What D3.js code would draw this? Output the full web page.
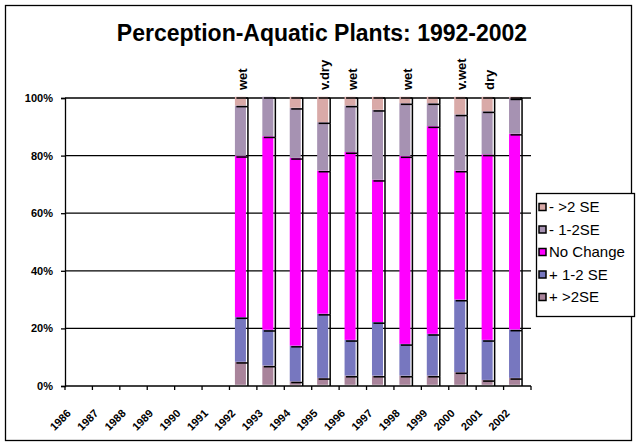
<!DOCTYPE html>
<html>
<head>
<meta charset="utf-8">
<script src="https://cdn.jsdelivr.net/npm/d3@7"></script>
<style>
  html, body { margin: 0; padding: 0; background: #fff; }
  svg { display: block; font-family: "Liberation Sans", Arial, sans-serif; }
</style>
</head>
<body>
<svg id="chart" width="637" height="447"></svg>
<script>
// ---- data ----
const years = ["1986","1987","1988","1989","1990","1991","1992","1993","1994","1995","1996","1997","1998","1999","2000","2001","2002"];
const plusGt2  = [0,0,0,0,0,0, 8.0, 6.7, 1.2, 2.4, 3.2, 3.2, 3.2, 3.2, 4.4, 1.7, 2.4];
const plus12   = [0,0,0,0,0,0,15.5,12.4,12.4,22.3,12.4,18.6,11.0,14.5,25.2,13.9,16.8];
const noChange = [0,0,0,0,0,0,56.0,67.2,65.2,49.7,65.2,49.4,65.2,72.1,44.8,64.4,68.0];
const minus12  = [0,0,0,0,0,0,17.5,13.7,17.4,16.8,16.2,24.3,18.4, 8.0,19.5,15.0,12.3];
const minusGt2 = [0,0,0,0,0,0, 3.0, 0.0, 3.8, 8.8, 3.0, 4.5, 2.2, 2.2, 6.1, 5.0, 0.5];
const notes    = ["","","","","","","wet","","","v.dry","wet","","wet","","v.wet","dry",""];
const seriesNames = ["+ >2SE","+ 1-2 SE","No Change","- 1-2SE","- >2 SE"];
const seriesColors = ["#A9849B","#7777BF","#FF00FF","#A692B2","#D9AAA8"];
const yTicks = [0,20,40,60,80,100];
const title = "Perception-Aquatic Plants: 1992-2002";

// ---- layout ----
const FONT = "'Liberation Sans', Arial, sans-serif";
const svg = d3.select("#chart");
const L = 65, R = 531, T = 98, B = 386;

svg.append("rect").attr("x",5.5).attr("y",5.5).attr("width",626).attr("height",435)
  .attr("fill","#fff").attr("stroke","#000").attr("stroke-width",1.3);

svg.append("text").attr("x",322).attr("y",41).attr("text-anchor","middle")
  .attr("font-size",23).attr("font-weight","bold").text(title);

const x = d3.scaleBand().domain(years).range([L,R]).padding(0);
const y = d3.scaleLinear().domain([0,100]).range([B,T]);

// gridlines
svg.append("g").selectAll("line").data(yTicks.filter(d=>d>0)).join("line")
  .attr("x1",L).attr("x2",R).attr("y1",d=>y(d)).attr("y2",d=>y(d))
  .attr("stroke","#000").attr("stroke-width",1.3);

// stacked data
const rows = years.map((yr,i)=>({year:yr, s0:plusGt2[i], s1:plus12[i], s2:noChange[i], s3:minus12[i], s4:minusGt2[i]}));
const stack = d3.stack().keys(["s0","s1","s2","s3","s4"]);
const stacked = stack(rows);

const bw = x.bandwidth()*0.42;
const bx = d => x(d.data.year) + x.bandwidth()/2 - bw/2 - 1;

const gBars = svg.append("g");
stacked.forEach((layer,k)=>{
  const g = gBars.append("g");
  const segs = layer.filter(d=>d[1]-d[0] > 0);
  g.selectAll("rect").data(segs).join("rect")
    .attr("x",d=>bx(d)-1.5).attr("y",d=>y(d[1])-1.2)
    .attr("width",bw-0.5).attr("height",d=>y(d[0])-y(d[1]))
    .attr("fill",seriesColors[k]);
});
stacked.forEach((layer,k)=>{
  const segs = layer.filter(d=>d[1]-d[0] > 0);
  const g = gBars.append("g");
  g.selectAll("line.top").data(segs).join("line")
    .attr("x1",d=>bx(d)).attr("x2",d=>bx(d)+bw)
    .attr("y1",d=>y(d[1])).attr("y2",d=>y(d[1]))
    .attr("stroke","#000").attr("stroke-width",1.5);
  g.selectAll("line.right").data(segs).join("line")
    .attr("x1",d=>bx(d)+bw).attr("x2",d=>bx(d)+bw)
    .attr("y1",d=>y(d[1])).attr("y2",d=>y(d[0]))
    .attr("stroke","#000").attr("stroke-width",1.5);
});

// y axis
const yAxis = svg.append("g").attr("transform",`translate(${L},0)`)
  .call(d3.axisLeft(y).tickValues(yTicks).tickFormat(d=>d+"%").tickSize(4).tickPadding(8));
yAxis.attr("font-family",FONT);
yAxis.select(".domain").attr("stroke","#000").attr("stroke-width",1.3);
yAxis.selectAll(".tick line").attr("stroke","#000").attr("stroke-width",1.3);
yAxis.selectAll("text").attr("font-size",11).attr("font-weight","bold").attr("fill","#000");

// x axis line and ticks at category boundaries
svg.append("line").attr("x1",L).attr("x2",R).attr("y1",B).attr("y2",B)
  .attr("stroke","#000").attr("stroke-width",1.3);
const bounds = years.map(yr=>x(yr)).concat([R]);
svg.append("g").selectAll("line").data(bounds).join("line")
  .attr("x1",d=>d).attr("x2",d=>d).attr("y1",B).attr("y2",B+4)
  .attr("stroke","#000").attr("stroke-width",1.3);

// x labels
svg.append("g").selectAll("text").data(years).join("text")
  .attr("transform",d=>`translate(${x(d)+x.bandwidth()/2-7},${B+28}) rotate(-45)`)
  .attr("text-anchor","end").attr("font-size",11).attr("font-weight","bold").text(d=>d);

// annotations
svg.append("g").selectAll("text").data(years.map((yr,i)=>({yr, t:notes[i]})).filter(d=>d.t))
  .join("text")
  .attr("transform",d=>`translate(${x(d.yr)+x.bandwidth()/2+4},${90}) rotate(-90)`)
  .attr("text-anchor","start").attr("font-size",13).attr("font-weight","bold").text(d=>d.t);

// legend
const lg = svg.append("g");
lg.append("rect").attr("x",536.5).attr("y",193.5).attr("width",98).attr("height",123)
  .attr("fill","#fff").attr("stroke","#000").attr("stroke-width",1.3);
const legendOrder = [4,3,2,1,0];
legendOrder.forEach((k,i)=>{
  const cy = 207 + i*22.5;
  lg.append("rect").attr("x",539).attr("y",cy-3.5).attr("width",7).attr("height",7)
    .attr("fill",seriesColors[k]).attr("stroke","#000").attr("stroke-width",1.5);
  lg.append("text").attr("x",549).attr("y",cy+5).attr("font-size",15).text(seriesNames[k]);
});
</script>
</body>
</html>
